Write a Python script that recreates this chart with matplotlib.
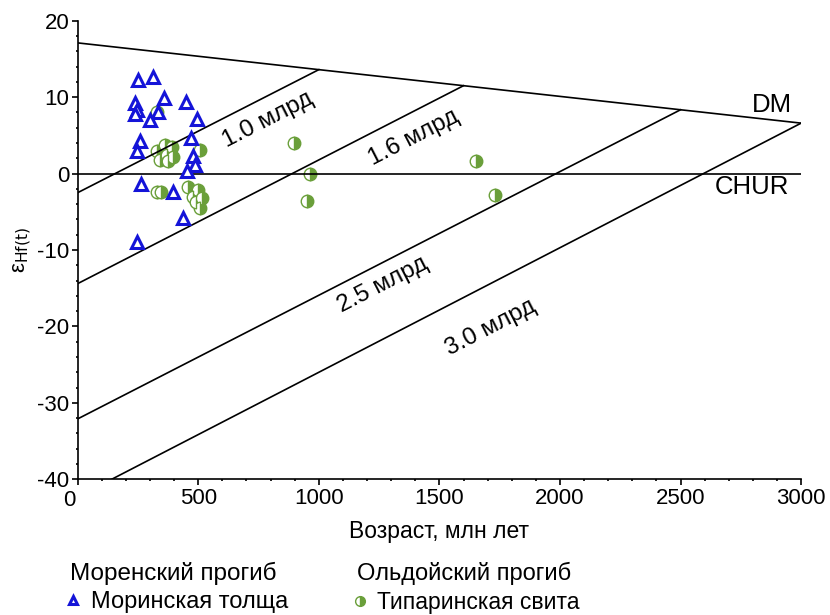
import numpy as np
import matplotlib
matplotlib.use("Agg")
from matplotlib import pyplot as plt
from matplotlib.lines import Line2D
from matplotlib.transforms import ScaledTranslation

plt.rcParams['font.family'] = ['Liberation Sans', 'DejaVu Sans']
plt.rcParams['axes.unicode_minus'] = False

# Моринская толща (Моренский прогиб): age, Ma / eHf(t)
tri_age = [251, 314, 238, 358, 449, 245, 238, 334, 300, 494,
           259, 245, 470, 477, 487, 452, 263, 397, 436, 247]
tri_ehf = [12.3, 12.6, 9.2, 9.9, 9.4, 8.3, 7.8, 8.1, 7.0, 7.2,
           4.2, 2.9, 4.6, 2.3, 1.1, 0.4, -1.3, -2.4, -5.8, -9.0]

# Типаринская свита (Ольдойский прогиб)
circ_age = [328, 328, 362, 390, 369, 397, 341, 376, 507,
            328, 344, 459, 500, 480, 515, 507, 491,
            895, 964, 950, 1653, 1732]
circ_ehf = [8.1, 2.9, 3.7, 3.5, 2.4, 2.2, 1.8, 1.6, 3.1,
            -2.4, -2.4, -1.7, -2.1, -3.0, -3.2, -4.5, -3.7,
            4.0, 0.0, -3.6, 1.6, -2.8]

# Depleted mantle line (present day and at 3000 Ma)
dm_age = [0, 3000]
dm_ehf = [17.1, 6.6]

# Crustal evolution lines: model age and present-day eHf
model_ages = [1000, 1600, 2500, 3000]
model_now = [-2.5, -14.4, -32.1, -42.3]
model_labels = ["1.0 млрд", "1.6 млрд", "2.5 млрд", "3.0 млрд"]
# label anchor points (age, eHf)
label_x = [789, 1392, 1267, 1711]
label_y = [7.0, 4.7, -14.6, -20.2]

BLUE = "#1414d8"
GREEN = "#6a9f3a"

fig = plt.figure(figsize=(8.3, 6.15), dpi=100)
ax = fig.add_axes([0.0936, 0.2207, 0.8716, 0.7456])

ax.plot(dm_age, dm_ehf, color="black", lw=1.2, zorder=3)
ax.plot([0, 3000], [0, 0], color="black", lw=1.2, zorder=3)
for age, now in zip(model_ages, model_now):
    top = np.interp(age, dm_age, dm_ehf)
    ax.plot([0, age], [now, top], color="black", lw=1.2, zorder=3)

ax.plot(circ_age, circ_ehf, linestyle="none", marker="o", markersize=9,
        fillstyle="right", markerfacecolor=GREEN, markerfacecoloralt="white",
        markeredgecolor=GREEN, markeredgewidth=1.0, zorder=2)
ax.plot(tri_age, tri_ehf, linestyle="none", marker="^", markersize=8.5,
        markerfacecolor="white", markeredgecolor=BLUE, markeredgewidth=2.2,
        zorder=4)

ax.set_xlim(0, 3000)
ax.set_ylim(-40, 20)

# rotate labels along the lines (angle in screen space)
fig.canvas.draw()
for age, now, text, lx, ly in zip(model_ages, model_now, model_labels, label_x, label_y):
    top = np.interp(age, dm_age, dm_ehf)
    p0 = ax.transData.transform((0, now))
    p1 = ax.transData.transform((age, top))
    angle = np.degrees(np.arctan2(p1[1] - p0[1], p1[0] - p0[0]))
    ax.text(lx, ly, text, rotation=angle, rotation_mode="anchor",
            ha="center", va="center", fontsize=17.5)

ax.text(2880, 9.0, "DM", ha="center", va="center", fontsize=18.5)
ax.text(2797, -1.7, "CHUR", ha="center", va="center", fontsize=18.5)

ax.spines["top"].set_visible(False)
ax.spines["right"].set_visible(False)
ax.spines["left"].set_linewidth(1.2)
ax.spines["bottom"].set_linewidth(1.2)

ax.set_xticks(np.arange(0, 3001, 500))
ax.set_xticks(np.arange(0, 3001, 100), minor=True)
ax.set_yticks(np.arange(-40, 21, 10))
ax.set_yticks(np.arange(-40, 21, 2), minor=True)
ax.tick_params(which="major", direction="out", length=4, width=1.2,
               labelsize=16, pad=2)
ax.tick_params(which="minor", direction="out", length=1.5, width=1.2)

ax.set_xlabel("Возраст, млн лет", fontsize=16.5, labelpad=6)
ax.set_ylabel("ε$_{\\mathrm{Hf(t)}}$", fontsize=16, labelpad=2)

# shift the "0" x tick label left, as in the original
zero_label = ax.get_xticklabels()[0]
zero_label.set_transform(zero_label.get_transform()
                         + ScaledTranslation(-6 / 72, -2 / 72, fig.dpi_scale_trans))

# legend: group headers and entries
fig.text(0.084, 0.068, "Моренский прогиб", fontsize=17.5, va="center")
fig.text(0.430, 0.068, "Ольдойский прогиб", fontsize=17, va="center")

tri_handle = Line2D([], [], linestyle="none", marker="^", markersize=6,
                    markerfacecolor="white", markeredgecolor=BLUE,
                    markeredgewidth=2.2)
circ_handle = Line2D([], [], linestyle="none", marker="o", markersize=7,
                     fillstyle="right", markerfacecolor=GREEN,
                     markerfacecoloralt="white", markeredgecolor=GREEN)
fig.legend([tri_handle], ["Моринская толща"], loc="center left",
           bbox_to_anchor=(0.078, 0.021), frameon=False, fontsize=17,
           handlelength=0.7, handletextpad=0.4, borderpad=0, borderaxespad=0)
fig.legend([circ_handle], ["Типаринская свита"], loc="center left",
           bbox_to_anchor=(0.424, 0.021), frameon=False, fontsize=16.5,
           handlelength=0.7, handletextpad=0.4, borderpad=0, borderaxespad=0)

fig.savefig("out.png", dpi=100)
